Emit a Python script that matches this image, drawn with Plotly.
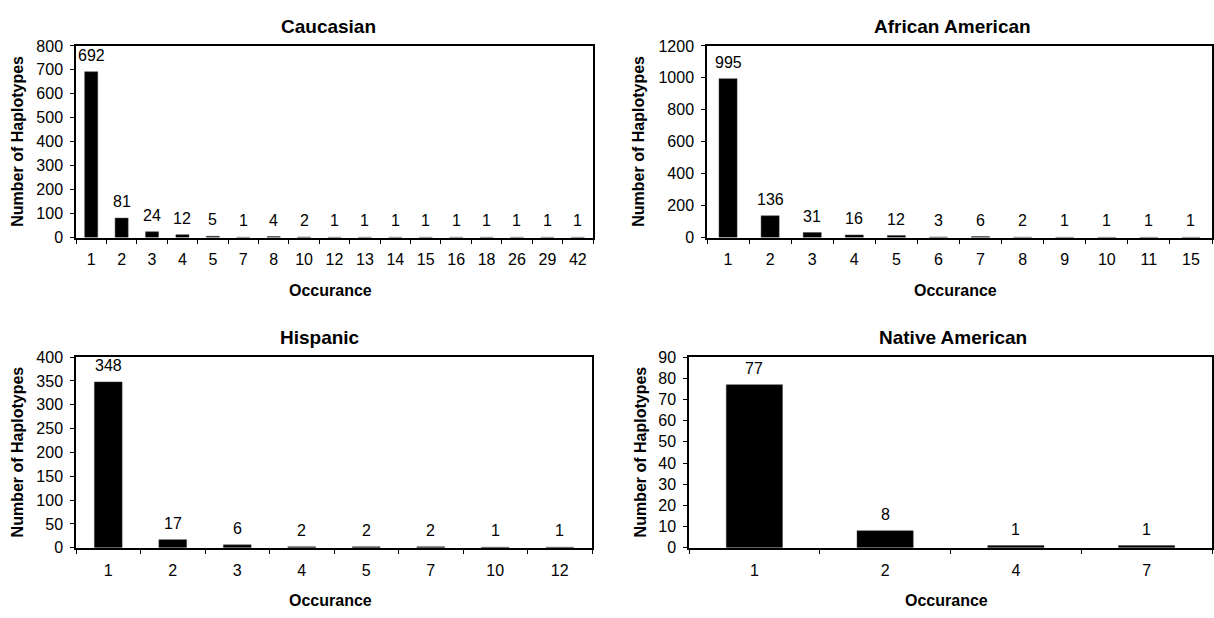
import plotly.graph_objects as go

W, H = 1214, 618

cau_occ = ["1", "2", "3", "4", "5", "7", "8", "10", "12", "13", "14", "15", "16", "18", "26", "29", "42"]
cau_val = [692, 81, 24, 12, 5, 1, 4, 2, 1, 1, 1, 1, 1, 1, 1, 1, 1]

afr_occ = ["1", "2", "3", "4", "5", "6", "7", "8", "9", "10", "11", "15"]
afr_val = [995, 136, 31, 16, 12, 3, 6, 2, 1, 1, 1, 1]

his_occ = ["1", "2", "3", "4", "5", "7", "10", "12"]
his_val = [348, 17, 6, 2, 2, 2, 1, 1]

nat_occ = ["1", "2", "4", "7"]
nat_val = [77, 8, 1, 1]

panels = [
    dict(name="Caucasian", x=cau_occ, y=cau_val, ymax=800, dtick=100,
         px=(76, 593), py=(39, 236), title_x=328, ytitle_x=18),
    dict(name="African American", x=afr_occ, y=afr_val, ymax=1200, dtick=200,
         px=(707, 1212), py=(39, 236), title_x=952, ytitle_x=639),
    dict(name="Hispanic", x=his_occ, y=his_val, ymax=400, dtick=50,
         px=(76, 592), py=(359, 555), title_x=320, ytitle_x=17),
    dict(name="Native American", x=nat_occ, y=nat_val, ymax=90, dtick=10,
         px=(689, 1212), py=(359, 555), title_x=953, ytitle_x=640),
]

FONT = "Liberation Sans, Arial, sans-serif"

fig = go.Figure()
annotations = []
for i, p in enumerate(panels, start=1):
    xa = "x" if i == 1 else f"x{i}"
    ya = "y" if i == 1 else f"y{i}"
    n = len(p["x"])
    fig.add_trace(go.Bar(
        x=p["x"], y=p["y"], xaxis=xa, yaxis=ya,
        marker=dict(color="black", line=dict(color="#444444", width=0.5)),
        showlegend=False, hoverinfo="x+y",
    ))
    # value labels above bars, positioned on the category axis by index
    for j, cy in enumerate(p["y"]):
        annotations.append(dict(text=str(cy), x=j, y=cy, xref=xa, yref=ya,
                                xanchor="center", yanchor="bottom", yshift=6,
                                showarrow=False,
                                font=dict(family=FONT, size=16, color="black")))
    x0, x1 = p["px"]
    y0, y1 = p["py"]
    xdom = [x0 / W, x1 / W]
    ydom = [1 - y1 / H, 1 - y0 / H]
    xkey = "xaxis" if i == 1 else f"xaxis{i}"
    ykey = "yaxis" if i == 1 else f"yaxis{i}"
    fig.update_layout({
        xkey: dict(domain=xdom, anchor=ya, type="category",
                   categoryorder="array", categoryarray=p["x"],
                   range=[-0.5, n - 0.5],
                   showline=True, linecolor="black", linewidth=1.5, mirror=True,
                   ticks="outside", tickson="boundaries", ticklen=5, tickcolor="black",
                   tickfont=dict(family=FONT, size=16, color="black"),
                   tickangle=0,
                   ticklabelstandoff=7, showgrid=False, zeroline=False,
                   fixedrange=True),
        ykey: dict(domain=ydom, anchor=xa, range=[0, p["ymax"]], dtick=p["dtick"],
                   showline=True, linecolor="black", linewidth=1.5, mirror=True,
                   ticks="outside", ticklen=4, tickcolor="black",
                   tickfont=dict(family=FONT, size=16, color="black"),
                   ticklabelstandoff=4, showgrid=False, zeroline=False,
                   fixedrange=True),
    })
    # chart title
    annotations.append(dict(text=f"<b>{p['name']}</b>", x=p["title_x"] / W,
                            y=1 - (y0 - 20) / H, xref="paper", yref="paper",
                            xanchor="center", yanchor="middle", showarrow=False,
                            font=dict(family=FONT, size=19, color="black")))
    # x axis title
    annotations.append(dict(text="<b>Occurance</b>", x=(x0 + x1) / 2 / W - 4 / W,
                            y=1 - (y1 + 54) / H, xref="paper", yref="paper",
                            xanchor="center", yanchor="middle", showarrow=False,
                            font=dict(family=FONT, size=16, color="black")))
    # y axis title
    annotations.append(dict(text="<b>Number of Haplotypes</b>", x=p["ytitle_x"] / W,
                            y=1 - (y0 + y1) / 2 / H, xref="paper", yref="paper",
                            xanchor="center", yanchor="middle", showarrow=False,
                            textangle=-90,
                            font=dict(family=FONT, size=16, color="black")))

fig.update_layout(
    width=W, height=H,
    margin=dict(l=0, r=0, t=0, b=0),
    paper_bgcolor="white", plot_bgcolor="white",
    bargap=0.57,
    annotations=annotations,
    font=dict(family=FONT, color="black"),
)

fig.write_html("out.html", config={"displayModeBar": False},
               post_script="document.body.style.margin='0';document.body.style.overflow='hidden';")
